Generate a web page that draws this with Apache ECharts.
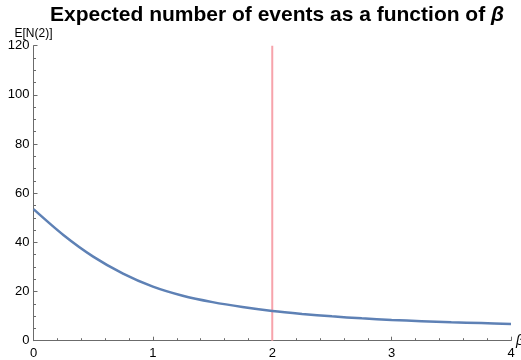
<!DOCTYPE html>
<html>
<head>
<meta charset="utf-8">
<script src="https://cdn.jsdelivr.net/npm/echarts@6/dist/echarts.min.js"></script>
<style>
  html, body { margin: 0; padding: 0; background: #fff; }
  #chart { width: 521px; height: 360px; }
</style>
</head>
<body>
<div id="chart"></div>
<script>
// Expected number of events E[N(2)] for a range of beta values
const betaValues = [0, 0.25, 0.5, 0.75, 1, 1.25, 1.5, 1.75, 2, 2.25, 2.5, 2.75, 3, 3.25, 3.5, 3.75, 4];
const expectedEvents = [53.5, 43.0, 34.2, 27.3, 22.0, 18.3, 15.7, 13.7, 12.1, 10.9, 9.9, 9.1, 8.45, 7.95, 7.5, 7.15, 6.8];
// Reference beta marked by the vertical line
const markerBeta = 2;
const markerRange = [0, 120];
const xTicks = [0, 1, 2, 3, 4];
const yTicks = [0, 20, 40, 60, 80, 100, 120];
const xAxisTitle = '\u03B2';

const curve = betaValues.map((b, i) => [b, expectedEvents[i]]);
const marker = markerRange.map(v => [markerBeta, v]);

const axisGray = '#6b6b6b';
const font = 'Liberation Sans, Arial, sans-serif';

const chart = echarts.init(document.getElementById('chart'), null, { renderer: 'canvas' });
chart.setOption({
  animation: false,
  backgroundColor: '#ffffff',
  title: {
    text: 'Expected number of events as a function of {b|\u03B2}',
    left: 272,
    textAlign: 'center',
    top: 0,
    textStyle: {
      fontFamily: font, fontWeight: 'bold', fontSize: 21, color: '#000',
      rich: { b: { fontFamily: font, fontWeight: 'bold', fontStyle: 'italic', fontSize: 21, color: '#000' } }
    }
  },
  grid: { left: 33.5, right: 10, top: 45.7, bottom: 19.3, containLabel: false, outerBoundsMode: 'none' },
  xAxis: {
    type: 'value',
    min: xTicks[0],
    max: xTicks[xTicks.length - 1],
    interval: 1,
    axisLine: { lineStyle: { color: axisGray, width: 1 } },
    axisTick: { inside: true, length: 4, lineStyle: { color: axisGray } },
    minorTick: { show: true, splitNumber: 5, length: 2.5, lineStyle: { color: axisGray } },
    axisLabel: { fontFamily: font, fontSize: 13, color: '#000', margin: 6 },
    splitLine: { show: false }
  },
  yAxis: {
    type: 'value',
    min: yTicks[0],
    max: yTicks[yTicks.length - 1],
    interval: 20,
    name: 'E[N(2)]',
    nameLocation: 'end',
    nameGap: 6,
    nameTextStyle: { fontFamily: font, fontSize: 12, color: '#000', align: 'center' },
    axisLine: { show: true, lineStyle: { color: axisGray, width: 1 } },
    axisTick: { show: true, inside: true, length: 4, lineStyle: { color: axisGray } },
    minorTick: { show: true, splitNumber: 4, length: 2.5, lineStyle: { color: axisGray } },
    axisLabel: { fontFamily: font, fontSize: 13, color: '#000', margin: 4 },
    splitLine: { show: false }
  },
  series: [
    {
      type: 'line',
      data: marker,
      symbol: 'none',
      lineStyle: { color: '#f7a3ab', width: 2 },
      z: 1
    },
    {
      type: 'line',
      data: curve,
      smooth: 0.3,
      symbol: 'none',
      lineStyle: { color: '#5e81b5', width: 2.5 },
      z: 2
    }
  ]
});

// Axis title for beta, placed just past the end of the x axis
const axisEnd = chart.convertToPixel({ gridIndex: 0 }, [xTicks[xTicks.length - 1], 0]);
chart.setOption({
  graphic: [{
    type: 'text',
    x: axisEnd[0] + 5,
    y: axisEnd[1],
    style: {
      text: xAxisTitle,
      font: 'italic 14px ' + font,
      fill: '#000',
      textVerticalAlign: 'middle',
      verticalAlign: 'middle'
    }
  }]
});
</script>
</body>
</html>
